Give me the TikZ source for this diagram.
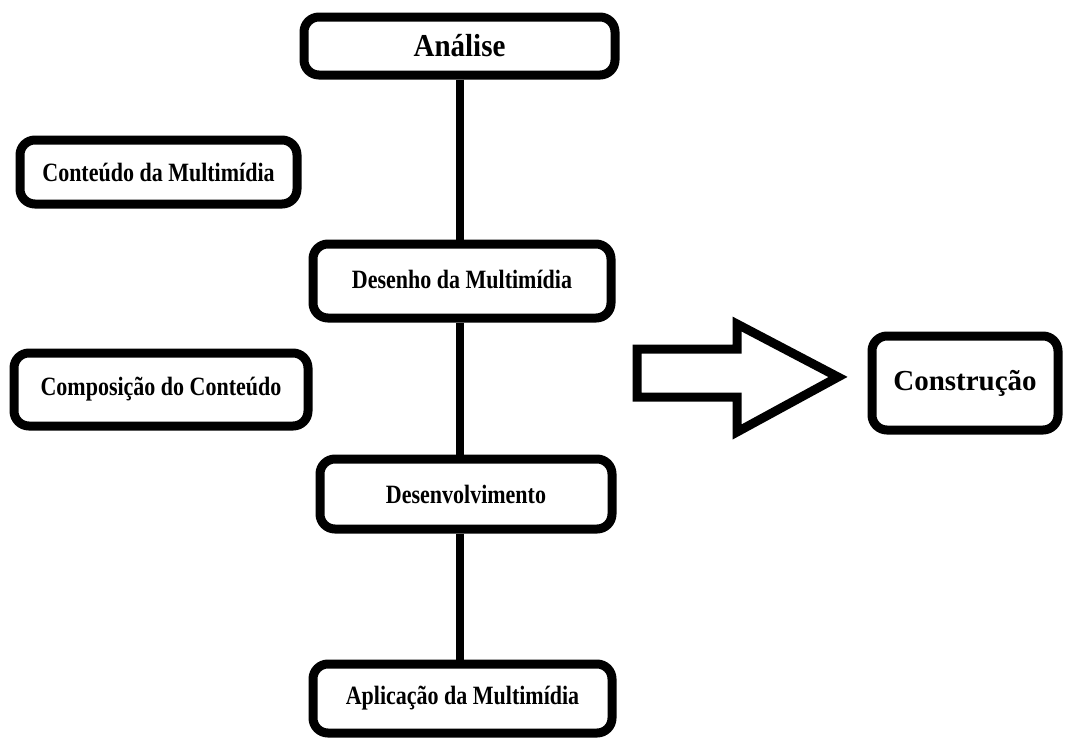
\documentclass[tikz,border=0pt]{standalone}
\usepackage{graphicx}
\usepackage{fontspec}
\setmainfont{Liberation Serif}
\newcommand\vstretch[2]{\scalebox{1}[#1]{#2}}
\begin{document}
\begin{tikzpicture}[x=1pt,y=-1pt,
  box/.style={draw, line width=9pt, rounded corners=15pt, inner sep=0pt,
    font=\bfseries\fontsize{22}{26}\selectfont},
  bigbox/.style={box, font=\bfseries\fontsize{29}{34}\selectfont},
  link/.style={line width=8pt},
  fatarrow/.style={draw, line width=9pt, line join=miter}]
\useasboundingbox (0,0) rectangle (1066,737);
\node[bigbox, minimum width=311pt, minimum height=58pt] (ana) at (459.5,46) {\vstretch{1.1}{Análise}};
\node[box, minimum width=277pt, minimum height=64pt] (con) at (158.5,172) {\vstretch{1.2}{Conteúdo da Multimídia}};
\node[box, minimum width=298pt, minimum height=74pt] (des) at (462,281) {\raisebox{4pt}{\vstretch{1.2}{Desenho da Multimídia}}};
\node[box, minimum width=294pt, minimum height=73pt] (com) at (161,389.5) {\vstretch{1.2}{Composição do Conteúdo}};
\node[box, minimum width=292pt, minimum height=70pt] (dev) at (466,494) {\vstretch{1.2}{Desenvolvimento}};
\node[box, minimum width=299pt, minimum height=69pt] (apl) at (462.5,698.5) {\vstretch{1.2}{Aplicação da Multimídia}};
\node[bigbox, minimum width=186pt, minimum height=94pt] (cst) at (965,383) {\raisebox{3pt}{Construção}};
\draw[link] (ana.south) -- (ana.south |- des.north);
\draw[link] (ana.south |- des.south) -- (ana.south |- dev.north);
\draw[link] (ana.south |- dev.south) -- (ana.south |- apl.north);
\draw[fatarrow] (637,349) -- (737,349) -- (737,324) -- (838,377) -- (737,432) -- (737,397) -- (637,397) -- cycle;
\end{tikzpicture}
\end{document}
